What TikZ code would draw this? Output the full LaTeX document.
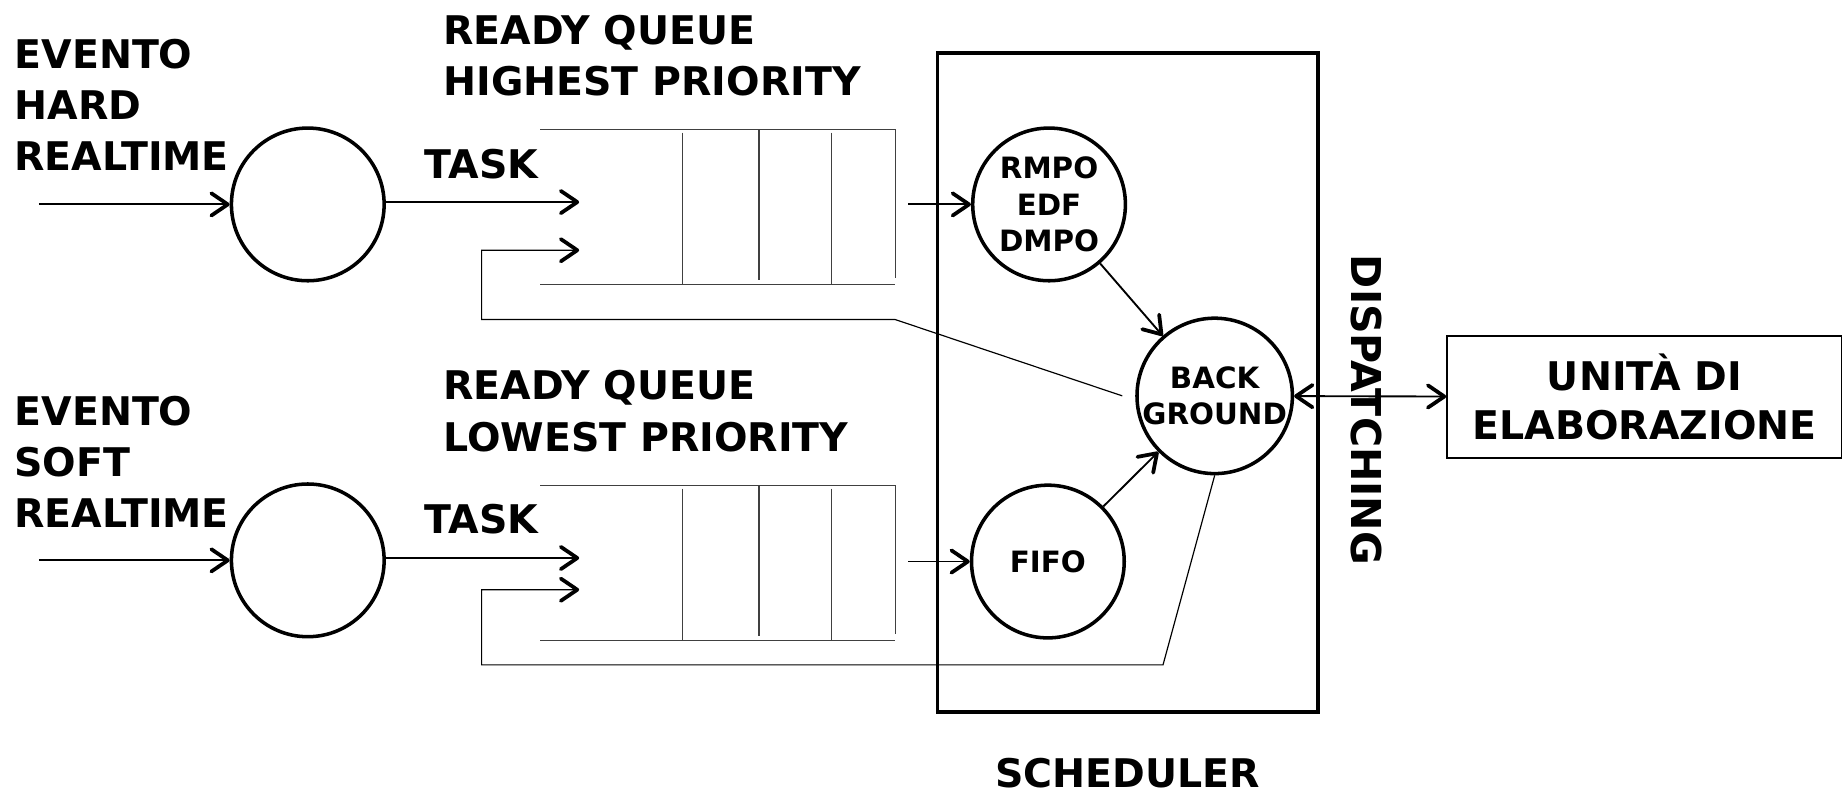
\documentclass[tikz,border=0pt]{standalone}
\usepackage{fontspec}
\setmainfont{DejaVu Sans}
\usetikzlibrary{arrows.meta,positioning}

\begin{document}
\begin{tikzpicture}[x=0.5pt,y=-0.5pt,
   >={Straight Barb[length=7pt,width=9.5pt,line width=1.6pt,round]},
   big/.style={inner sep=0pt,align=left,font=\bfseries\fontsize{16.8}{21.75}\selectfont},
   proc/.style={draw,circle,line width=1.5pt,minimum size=65pt,inner sep=0pt,align=center,
                font=\bfseries\fontsize{12.5}{15.5}\selectfont},
   arr/.style={->,line width=0.8pt},
   fb/.style={->,line width=0.5pt},
   qline/.style={line width=0.55pt,black!75}]
   \useasboundingbox (0,0) rectangle (1568,679);

   % texts
   \node[big,anchor=west] (t1) at (12,89) {EVENTO\\HARD\\REALTIME};
   \node[big,anchor=west] (t2) at (12,393) {EVENTO\\SOFT\\REALTIME};
   \node[big,anchor=west] (q1) at (377,47) {READY QUEUE\\HIGHEST PRIORITY};
   \node[big,anchor=west] (q2) at (377,350) {READY QUEUE\\LOWEST PRIORITY};
   \node[big] (k1) at (410,140) {TASK};
   \node[big] (k2) at (410,442) {TASK};
   \node[big] (sch) at (960,658) {SCHEDULER};
   \node[big,rotate=-90,font=\bfseries\fontsize{17.5}{21}\selectfont] (dis) at (1163,349) {DISPATCHING};

   % circles
   \node[proc] (a1) at (262,174) {};
   \node[proc] (a2) at (262,477) {};
   \node[proc] (rm) at (893,174) {RMPO\\EDF\\DMPO};
   \node[proc] (ff) at (892,478) {FIFO};
   \node[proc] (bg) at (1034,337) {BACK\\GROUND};
   \node[draw,line width=0.9pt,minimum width=168pt,minimum height=52pt,inner sep=0pt,
         align=center,font=\bfseries\fontsize{16.8}{21}\selectfont] (cpu) at (1400,338) {UNITÀ DI\\ELABORAZIONE};

   % scheduler box
   \draw[line width=1.5pt] (798,45) rectangle (1122,606);

   % queues
   \foreach \t in {0,303} {
     \draw[qline] (460,110+\t) -- (762,110+\t);
     \draw[qline] (460,242+\t) -- (762,242+\t);
     \draw[qline] (581,113+\t) -- (581,242+\t);
     \draw[qline] (646,110+\t) -- (646,238+\t);
     \draw[qline] (708,113+\t) -- (708,242+\t);
     \draw[qline] (762,110+\t) -- (762,237+\t);
   }

   \coordinate (i1) at (33,174);
   \coordinate (i2) at (33,477);
   \coordinate (e1) at (493,172);
   \coordinate (e2) at (493,475);
   \coordinate (r1) at (493,213);
   \coordinate (r2) at (493,502);
   \coordinate (o1) at (773,174);
   \coordinate (o2) at (773,478);
   \coordinate (b1) at (762,272);
   \coordinate (b2) at (990,566);

   \draw[arr] (i1) -- (a1);
   \draw[arr] (i2) -- (a2);
   \draw[arr] (a1.east |- e1) -- (e1);
   \draw[arr] (a2.east |- e2) -- (e2);
   \draw[arr] (o1) -- (rm);
   \draw[arr] (o2) -- (ff);
   \draw[arr] (rm) -- (bg);
   \draw[arr] (ff) -- (bg);
   \draw[<->,line width=0.8pt] (bg) -- (cpu);

   % feedback
   \draw[fb] ([xshift=-5.5pt]bg.west) -- (b1) -| ([xshift=-41.5pt]r1) -- (r1);
   \draw[fb] (bg.south) -- (b2) -| ([xshift=-41.5pt]r2) -- (r2);

\end{tikzpicture}
\end{document}
